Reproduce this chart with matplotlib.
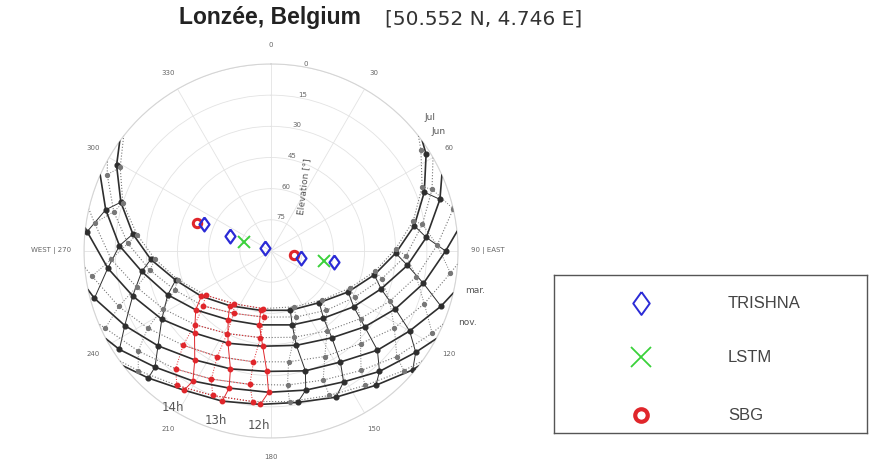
import numpy as np
import matplotlib
matplotlib.use("Agg")
import matplotlib.pyplot as plt

# sun position on the 1st of each month, one point per full UTC hour
months = ["Jan", "Feb", "Mar", "Apr", "May", "Jun", "Jul", "Aug", "Sep", "Oct", "Nov", "Dec"]
sunrise_az = [128, 118, 103, 84, 66, 54, 52, 60, 76, 94, 113, 126]
sunset_az = [232, 242, 258, 277, 294, 306, 308, 299, 283, 265, 247, 234]
first_hour = [8, 8, 7, 6, 5, 4, 4, 5, 5, 6, 7, 8]

az_jan = [130, 142, 156, 170, 184, 198, 212, 224]
el_jan = [1, 8, 13, 16, 16, 14, 11, 5]
az_feb = [125, 138, 151, 166, 181, 197, 211, 225, 237]
el_feb = [5, 12, 18, 21, 22, 21, 17, 11, 3]
az_mar = [108, 120, 133, 148, 164, 182, 199, 215, 230, 243, 255]
el_mar = [4, 13, 20, 27, 30, 32, 30, 26, 19, 11, 2]
az_apr = [90, 102, 115, 129, 145, 165, 185, 205, 223, 238, 252, 264, 276]
el_apr = [6, 15, 24, 32, 39, 43, 44, 41, 36, 28, 20, 11, 1]
az_may = [73, 85, 96, 109, 124, 142, 164, 189, 212, 232, 247, 261, 272, 284]
el_may = [5, 15, 24, 34, 42, 49, 53, 54, 51, 44, 36, 27, 17, 8]
az_jun = [58, 69, 80, 91, 103, 118, 137, 162, 190, 217, 237, 253, 266, 277, 288, 299]
el_jun = [2, 11, 20, 30, 39, 48, 56, 60, 61, 57, 50, 42, 32, 23, 14, 5]
az_jul = [56, 67, 78, 89, 101, 115, 134, 158, 188, 215, 236, 253, 266, 277, 288, 299]
el_jul = [3, 11, 20, 30, 39, 48, 56, 61, 62, 59, 52, 43, 34, 25, 15, 7]
az_aug = [69, 80, 92, 104, 119, 137, 159, 186, 211, 231, 248, 261, 273, 284, 295]
el_aug = [7, 16, 25, 35, 44, 51, 56, 58, 55, 48, 40, 31, 21, 12, 3]
az_sep = [77, 88, 100, 113, 127, 145, 165, 187, 208, 226, 242, 255, 267, 279]
el_sep = [0, 10, 19, 28, 36, 43, 47, 48, 45, 39, 31, 23, 13, 4]
az_oct = [97, 109, 122, 136, 153, 171, 189, 207, 223, 238, 250, 262]
el_oct = [3, 12, 20, 28, 33, 36, 36, 33, 28, 20, 12, 3]
az_nov = [117, 130, 143, 158, 173, 189, 205, 219, 233, 245]
el_nov = [3, 11, 18, 23, 25, 25, 22, 17, 10, 2]
az_dec = [132, 145, 158, 173, 187, 202, 215, 228]
el_dec = [4, 11, 15, 17, 17, 15, 11, 4]

sun_az = [az_jan, az_feb, az_mar, az_apr, az_may, az_jun,
          az_jul, az_aug, az_sep, az_oct, az_nov, az_dec]
sun_el = [el_jan, el_feb, el_mar, el_apr, el_may, el_jun,
          el_jul, el_aug, el_sep, el_oct, el_nov, el_dec]
red_hours = [12, 13, 14]

# viewing geometry of the sensors (azimuth, elevation in degrees)
trishna_az = [292, 290, 294, 103, 100]
trishna_el = [55, 69, 87, 75, 59]
lstm_az = [289, 101]
lstm_el = [76, 64]
sbg_az = [291, 100]
sbg_el = [52, 79]

DARK = "#2e2e2e"
GREY = "#777777"
RED = "#e0262b"
BLUE = "#2b2bd6"
GREEN = "#3ad13a"
DIAMOND = [(0, 1), (0.72, 0), (0, -1), (-0.72, 0), (0, 1)]


def pol(az, el):
    return np.radians(az), 90 - np.asarray(el, dtype=float)


fig = plt.figure(figsize=(8.69, 4.63), dpi=100)
ax = fig.add_axes([0.0967, 0.054, 0.4304, 0.8078], projection="polar")
ax.set_theta_zero_location("N")
ax.set_theta_direction(-1)

# date curves: first half of the year solid, second half dotted
for i in range(12):
    solid = i < 6
    a = [sunrise_az[i]] + sun_az[i] + [sunset_az[i]]
    e = [0] + sun_el[i] + [0]
    ax.plot(*pol(a, e), color=DARK if solid else GREY,
            lw=1.2 if solid else 0.8, ls="-" if solid else ":", zorder=3)
    hrs = first_hour[i] + np.arange(len(sun_az[i]))
    red = np.isin(hrs, red_hours)
    idx = np.where(red)[0]
    if not solid and len(idx):
        ax.plot(*pol(sun_az[i][idx[0]:idx[-1] + 1], sun_el[i][idx[0]:idx[-1] + 1]),
                color=RED, lw=0.8, ls=":", zorder=4)
    az_arr = np.array(sun_az[i])
    el_arr = np.array(sun_el[i])
    ax.plot(*pol(az_arr[~red], el_arr[~red]), "o", color=DARK if solid else GREY,
            ms=3.4 if solid else 2.8, zorder=5)
    ax.plot(*pol(az_arr[red], el_arr[red]), "o", color=RED, ms=3.2, zorder=6)

# hour lines joining the same UTC hour from one month to the next
for group, ls in ((range(0, 6), "-"), (range(6, 12), ":")):
    for h in range(24):
        pa, pe = [], []
        for i in group:
            k = h - first_hour[i]
            if 0 <= k < len(sun_az[i]):
                pa.append(sun_az[i][k])
                pe.append(sun_el[i][k])
        if len(pa) > 1:
            c = RED if h in red_hours else (DARK if ls == "-" else GREY)
            ax.plot(*pol(pa, pe), color=c, lw=0.7, ls=ls, zorder=2)

# sensor viewing directions
ax.plot(*pol(trishna_az, trishna_el), marker=DIAMOND, ms=10, mfc="none", mec=BLUE, mew=1.6,
        ls="none", zorder=8)
ax.plot(*pol(lstm_az, lstm_el), "x", ms=8, color=GREEN, mew=1.4, ls="none", zorder=8)
ax.plot(*pol(sbg_az, sbg_el), "o", ms=6, mfc="none", mec=RED, mew=2.2, ls="none", zorder=7)

ax.set_ylim(0, 90)
ax.set_rgrids([15, 30, 45, 60, 75, 90], labels=["75", "60", "45", "30", "15", "0"],
              angle=10, fontsize=5, color="#666666")
ax.set_thetagrids(range(0, 360, 30), labels=[""] * 12)
ax.grid(color="#e3e3e3", lw=0.6)
ax.spines["polar"].set_color("#d5d5d5")
ax.spines["polar"].set_linewidth(0.8)

theta_labels = ["0", "30", "60", "90 | EAST", "120", "150", "180", "210", "240",
                "WEST | 270", "300", "330"]
for deg, lab in zip(range(0, 360, 30), theta_labels):
    if deg == 90:
        ax.text(np.radians(deg), 96, lab, ha="left", va="center", fontsize=5, color="#666666")
    elif deg == 270:
        ax.text(np.radians(deg), 96, lab, ha="right", va="center", fontsize=5, color="#666666")
    else:
        ax.text(np.radians(deg), 99, lab, ha="center", va="center", fontsize=5, color="#666666")

# month and hour annotations
for deg, r, lab in ((50, 100, "Jul"), (54.5, 99, "Jun"), (101, 100, "mar."), (110, 100.6, "nov.")):
    ax.text(np.radians(deg), r, lab, ha="center", va="center", fontsize=6.5, color="#555555")
for h in red_hours:
    k = h - first_hour[0]
    ax.text(np.radians(sun_az[0][k]), 90 - sun_el[0][k] + 10, f"{h}h", ha="center",
            va="center", fontsize=8.5, color="#555555")

fig.text(0.350, 0.598, "Elevation [°]", rotation=83, ha="center", va="center",
         fontsize=6.5, color="#555555")

fig.text(179 / 869, 0.962, "Lonzée, Belgium", ha="left", va="center", fontsize=16.5,
         fontweight="bold", color="#222222", family="Liberation Sans")
fig.text(385 / 869, 0.960, "[50.552 N, 4.746 E]", ha="left", va="center", fontsize=14.5,
         color="#333333")

# legend panel
lg = fig.add_axes([554 / 869, 30 / 463, 313 / 869, 158 / 463])
lg.set_xlim(0, 1)
lg.set_ylim(0, 1)
lg.set_xticks([])
lg.set_yticks([])
for s in lg.spines.values():
    s.set_color("#555555")
    s.set_linewidth(1.0)
rows = [1 - (303 - 275) / 158, 1 - (357 - 275) / 158, 1 - (415 - 275) / 158]
lg.plot([0.278], [rows[0]], marker=DIAMOND, ms=16.5, mfc="none", mec=BLUE, mew=1.4)
lg.plot([0.278], [rows[1]], "x", ms=15, color=GREEN, mew=1.3)
lg.plot([0.278], [rows[2]], "o", ms=9, mfc="none", mec=RED, mew=3)
for y, lab in zip(rows, ("TRISHNA", "LSTM", "SBG")):
    lg.text(0.556, y, lab, ha="left", va="center", fontsize=12, color="#444444",
            family="Liberation Sans")

fig.savefig("out.png", dpi=100)
